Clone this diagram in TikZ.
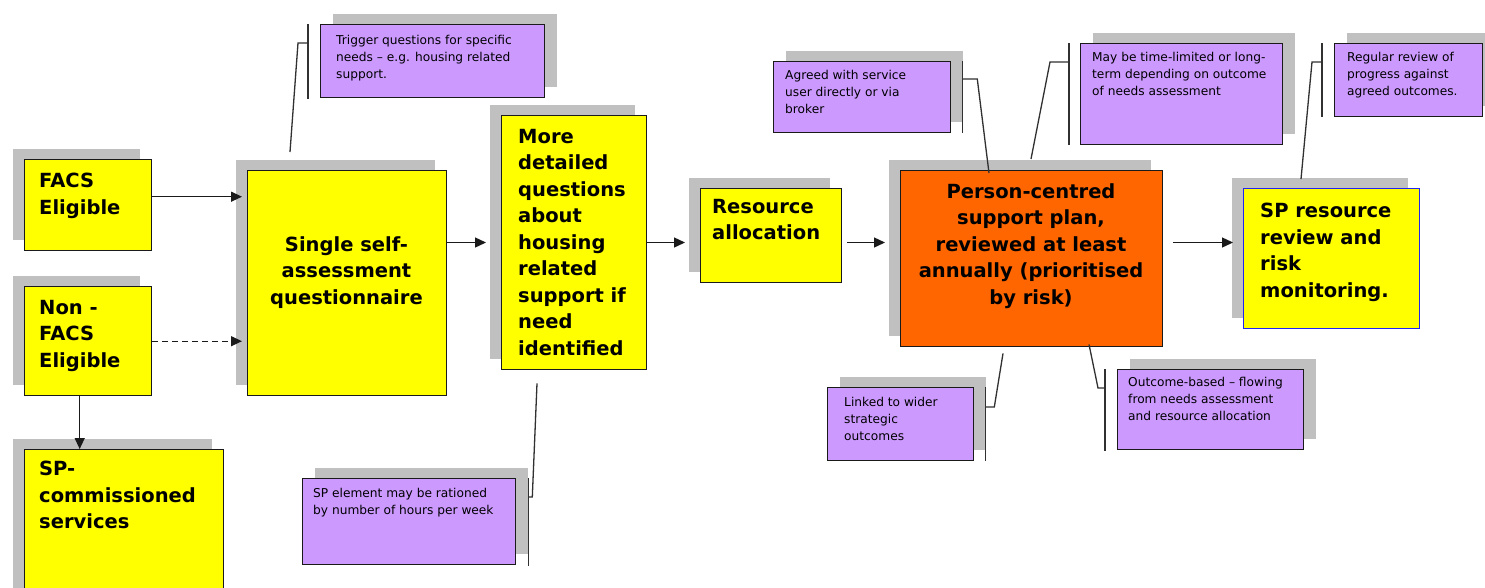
\documentclass[tikz,border=0pt]{standalone}
\usepackage{fontspec}
\setmainfont{DejaVu Sans}
\usetikzlibrary{arrows.meta,calc,shadows}

\definecolor{stageyellow}{HTML}{FFFF00}
\definecolor{notepurple}{HTML}{CC99FF}
\definecolor{planorange}{HTML}{FF6600}
\definecolor{shadowgrey}{HTML}{C0C0C0}
\definecolor{reviewblue}{HTML}{2424F0}
\definecolor{inkline}{HTML}{1A1A1A}

\tikzset{
  stage/.style={draw=inkline, line width=1.4pt, fill=stageyellow, inner sep=0pt,
    anchor=north west,
    drop shadow={shadow xshift=-12pt, shadow yshift=11pt, fill=shadowgrey, opacity=1}},
  note/.style={draw=inkline, line width=1.3pt, fill=notepurple, inner sep=0pt,
    anchor=north west,
    drop shadow={shadow xshift=12pt, shadow yshift=11pt, fill=shadowgrey, opacity=1}},
  bigtext/.style={font=\fontsize{19.5}{26.5}\selectfont\bfseries, inner sep=0pt,
    align=left, anchor=north west},
  bigcentre/.style={bigtext, align=center, anchor=north},
  notetext/.style={font=\fontsize{12.2}{16.8}\selectfont, inner sep=0pt,
    align=left, anchor=north west},
  flow/.style={-{Triangle[length=11pt,width=10pt]}, line width=1.3pt, draw=inkline},
  leader/.style={line width=1.3pt, draw=inkline!90},
}

\begin{document}
\begin{tikzpicture}[x=1pt,y=-1pt]
\fill[white] (0,0) rectangle (1485,587);
\useasboundingbox (0,0) rectangle (1485,587);

% main process stages
\node[stage, minimum width=127, minimum height=91]  (facs)    at (24,159)  {};
\node[stage, minimum width=127, minimum height=109] (nonfacs) at (24,286)  {};
\node[stage, minimum width=199, minimum height=150] (spcomm)  at (24,449)  {};
\node[stage, minimum width=199, minimum height=225] (single)  at (247,170) {};
\node[stage, minimum width=145, minimum height=254] (more)    at (501,115) {};
\node[stage, minimum width=141, minimum height=94]  (alloc)   at (700,188) {};
\node[stage, fill=planorange, minimum width=262, minimum height=176] (plan) at (900,170) {};
\node[stage, draw=reviewblue, minimum width=176, minimum height=140] (review) at (1243,188) {};

% stage labels
\node[bigtext]   (facs-t)    at (39,173)   {FACS\\Eligible};
\node[bigtext]   (nonfacs-t) at (39,300)   {Non -\\FACS\\Eligible};
\node[bigtext]   (spcomm-t)  at (39,461)   {SP-\\commissioned\\services};
\node[bigcentre] (single-t)  at (346.5,236) {Single self-\\assessment\\questionnaire};
\node[bigtext]   (more-t)    at (518,129)  {More\\detailed\\questions\\about\\housing\\related\\support if\\need\\identified};
\node[bigtext]   (alloc-t)   at (712,199)  {Resource\\allocation};
\node[bigcentre] (plan-t)    at (1031,183) {Person-centred\\support plan,\\reviewed at least\\annually (prioritised\\by risk)};
\node[bigtext]   (review-t)  at (1260,203) {SP resource\\review and\\risk\\monitoring.};

% annotation notes
\node[note, minimum width=224, minimum height=73] (trig)    at (320,24)   {};
\node[note, minimum width=213, minimum height=86] (ration)  at (302,478)  {};
\node[note, minimum width=177, minimum height=71] (agreed)  at (773,61)   {};
\node[note, minimum width=202, minimum height=101] (term)   at (1080,43)  {};
\node[note, minimum width=148, minimum height=73] (regular) at (1334,43)  {};
\node[note, minimum width=146, minimum height=73] (linked)  at (827,387)  {};
\node[note, minimum width=186, minimum height=80] (outcome) at (1117,369) {};

\node[notetext] (trig-t)    at (336,35)   {Trigger questions for specific\\needs – e.g. housing related\\support.};
\node[notetext] (ration-t)  at (313,488)  {SP element may be rationed\\by number of hours per week};
\node[notetext] (agreed-t)  at (785,70)   {Agreed with service\\user directly or via\\broker};
\node[notetext] (term-t)    at (1092,52)  {May be time-limited or long-\\term depending on outcome\\of needs assessment};
\node[notetext] (regular-t) at (1347,52)  {Regular review of\\progress against\\agreed outcomes.};
\node[notetext] (linked-t)  at (844,397)  {Linked to wider\\strategic\\outcomes};
\node[notetext] (outcome-t) at (1128,377) {Outcome-based – flowing\\from needs assessment\\and resource allocation};

% flow arrows
\coordinate (row) at (0,242.5);
\coordinate (facsout) at ($(facs.east)+(0,-8.5)$);
\draw[flow, shorten >=5pt] (facsout) -- (facsout -| single.west);
\draw[flow, dash pattern=on 6pt off 4pt, shorten >=5pt] (nonfacs.east) -- (nonfacs.east -| single.west);
\coordinate (nonfacsdown) at ($(nonfacs.south)+(-8.5,0)$);
\draw[flow] (nonfacsdown) -- (nonfacsdown |- spcomm.north);
\draw[flow, shorten >=15pt] (single.east |- row) -- (more.west |- row);
\draw[flow, shorten >=15pt] (more.east |- row) -- (alloc.west |- row);
\draw[flow, shorten <=5pt, shorten >=15pt] (alloc.east |- row) -- (plan.west |- row);
\draw[flow, shorten <=10pt, shorten >=10pt] (plan.east |- row) -- (review.west |- row);

% note brackets and leaders
\draw[leader] ($(trig.north west)+(-12,0)$) -- ($(trig.south west)+(-12,1)$);
\draw[leader] ($(trig.north west)+(-12,19)$) -- ++(-10,0) -- ($(single.north west)+(43,-18)$);

\draw[leader] ($(ration.north east)+(12,0)$) -- ($(ration.south east)+(12,1)$);
\draw[leader] ($(ration.north east)+(12,19)$) -- ++(4,0) -- ($(more.south west)+(36,13)$);

\draw[leader] ($(agreed.north east)+(11,0)$) -- ($(agreed.south east)+(11,0)$);
\draw[leader] ($(agreed.north east)+(11,18)$) -- ++(15,0) -- ($(plan.north west)+(89,3)$);

\draw[leader] ($(term.north west)+(-11,0)$) -- ($(term.south west)+(-11,0)$);
\draw[leader] ($(term.north west)+(-11,19)$) -- ++(-19,0) -- ($(plan.north west)+(131,-11)$);

\draw[leader] ($(regular.north west)+(-12,0)$) -- ($(regular.south west)+(-12,0)$);
\draw[leader] ($(regular.north west)+(-12,19)$) -- ++(-10,0) -- ($(review.north west)+(58,-9)$);

\draw[leader] ($(linked.north east)+(11,0)$) -- ($(linked.south east)+(11,0)$);
\draw[leader] ($(linked.north east)+(11,20)$) -- ++(9,0) -- ($(plan.south west)+(103,6)$);

\draw[leader] ($(outcome.north west)+(-12,0)$) -- ($(outcome.south west)+(-12,1)$);
\draw[leader] ($(outcome.north west)+(-12,19)$) -- ++(-7,0) -- ($(plan.south west)+(189,-3)$);
\end{tikzpicture}
\end{document}
